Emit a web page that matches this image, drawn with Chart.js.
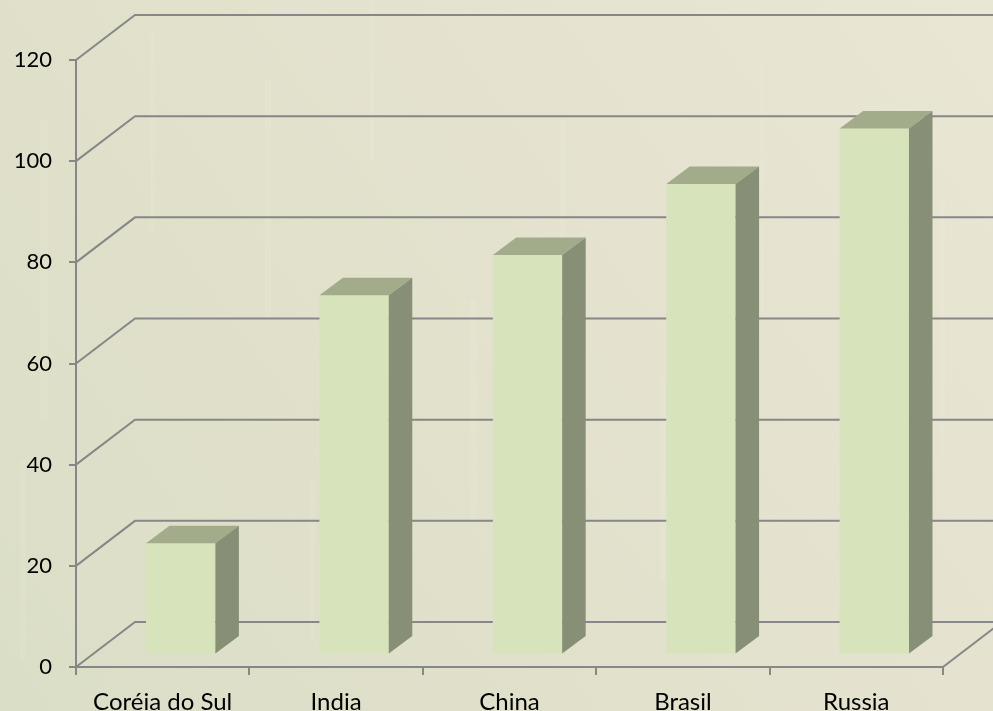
<!DOCTYPE html>
<html>
<head>
<meta charset="utf-8">
<script src="https://cdn.jsdelivr.net/npm/chart.js@4.4.1/dist/chart.umd.min.js"></script>
<style>
  html, body { margin: 0; padding: 0; background: #e3e2cd; }
  #wrap { width: 993px; height: 711px; }
  canvas { display: block; }
</style>
</head>
<body>
<div id="wrap"><canvas id="c" width="993" height="711"></canvas></div>
<script>
// Country names along the category axis
const categories = ['Coréia do Sul', 'India', 'China', 'Brasil', 'Russia'];
// Column heights
const values = [22, 71, 79, 93, 104];
// Value axis ticks
const yTicks = [0, 20, 40, 60, 80, 100, 120];

// Oblique projection of the 3D box: wall depth and column depth
const WALL_DX = 59, WALL_DY = -45;
const BAR_SHIFT_X = 18, BAR_SHIFT_Y = -12.5;
const BAR_DX = 23.5, BAR_DY = -17.5;

const GRID = '#878787';
const FAMILY = 'Lato, "Open Sans", sans-serif';

// Paper-like backdrop
const backdrop = {
  id: 'backdrop',
  beforeDraw(chart) {
    const { ctx, width, height } = chart;
    ctx.save();
    const g = ctx.createLinearGradient(0, height, width, 0);
    g.addColorStop(0, '#dbdec6');
    g.addColorStop(0.45, '#e2e1cc');
    g.addColorStop(1, '#e9e6d4');
    ctx.fillStyle = g;
    ctx.fillRect(0, 0, width, height);
    // faint paper fibres
    ctx.globalAlpha = 0.1;
    const fib = [[40, 120, 8, 300], [150, 30, 5, 200], [265, 80, 6, 240], [370, 0, 4, 160],
                 [470, 300, 7, 220], [560, 120, 5, 180], [660, 380, 6, 200], [760, 60, 4, 260],
                 [850, 430, 6, 180], [940, 200, 5, 260], [20, 460, 6, 200], [310, 480, 5, 160]];
    ctx.fillStyle = '#f6f3e4';
    fib.forEach(([x, y, w, h]) => ctx.fillRect(x, y, w, h));
    ctx.restore();
  }
};

// Side wall, back wall and floor edges of the 3D box
const walls = {
  id: 'walls',
  beforeDatasetsDraw(chart) {
    const { ctx, chartArea: a, scales: { y } } = chart;
    ctx.save();
    ctx.strokeStyle = GRID;
    ctx.lineWidth = 2;
    ctx.lineJoin = 'miter';
    yTicks.forEach(v => {
      const py = y.getPixelForValue(v);
      ctx.beginPath();
      ctx.moveTo(a.left, py);
      ctx.lineTo(a.left + WALL_DX, py + WALL_DY);
      ctx.lineTo(a.right + WALL_DX, py + WALL_DY);
      ctx.stroke();
    });
    ctx.beginPath();
    ctx.moveTo(a.right, a.bottom);
    ctx.lineTo(a.right + WALL_DX, a.bottom + WALL_DY);
    ctx.stroke();
    ctx.restore();
  }
};

// Columns: front faces come from the bar elements, top and side faces added here
const columns = {
  id: 'columns',
  beforeDatasetsDraw(chart) {
    chart.ctx.save();
    chart.ctx.translate(BAR_SHIFT_X, BAR_SHIFT_Y);
  },
  afterDatasetsDraw(chart) {
    const ctx = chart.ctx;
    chart.getDatasetMeta(0).data.forEach(bar => {
      const { x, y, base, width } = bar.getProps(['x', 'y', 'base', 'width'], true);
      const l = x - width / 2, r = x + width / 2;
      ctx.fillStyle = '#a2ac8b';
      ctx.beginPath();
      ctx.moveTo(l, y);
      ctx.lineTo(r, y);
      ctx.lineTo(r + BAR_DX, y + BAR_DY);
      ctx.lineTo(l + BAR_DX, y + BAR_DY);
      ctx.closePath();
      ctx.fill();
      ctx.fillStyle = '#878f77';
      ctx.beginPath();
      ctx.moveTo(r, y);
      ctx.lineTo(r + BAR_DX, y + BAR_DY);
      ctx.lineTo(r + BAR_DX, base + BAR_DY);
      ctx.lineTo(r, base);
      ctx.closePath();
      ctx.fill();
    });
    ctx.restore();
  }
};

new Chart(document.getElementById('c'), {
  type: 'bar',
  data: {
    labels: categories,
    datasets: [{
      data: values,
      backgroundColor: '#d6e3bb',
      borderWidth: 0,
      barPercentage: 0.4,
      categoryPercentage: 1,
      clip: false
    }]
  },
  options: {
    responsive: false,
    animation: false,
    events: [],
    layout: { padding: { top: 60, right: 50, left: 0, bottom: 0 } },
    plugins: { legend: { display: false }, tooltip: { enabled: false } },
    scales: {
      x: {
        grid: { drawOnChartArea: false, drawTicks: true, tickLength: 8, color: GRID, lineWidth: 2, offset: true },
        border: { color: GRID, width: 2 },
        ticks: { color: '#000', font: { family: FAMILY, size: 24 }, padding: 13, maxRotation: 0 },
        afterFit(s) { s.height = 44; }
      },
      y: {
        min: 0, max: 120,
        afterBuildTicks(s) { s.ticks = yTicks.map(v => ({ value: v })); },
        grid: { drawOnChartArea: false, drawTicks: true, tickLength: 7, color: GRID, lineWidth: 2 },
        border: { color: GRID, width: 2 },
        ticks: { color: '#000', font: { family: FAMILY, size: 22 }, padding: 17 },
        afterFit(s) { s.width = 76; }
      }
    }
  },
  plugins: [backdrop, walls, columns]
});
</script>
</body>
</html>
